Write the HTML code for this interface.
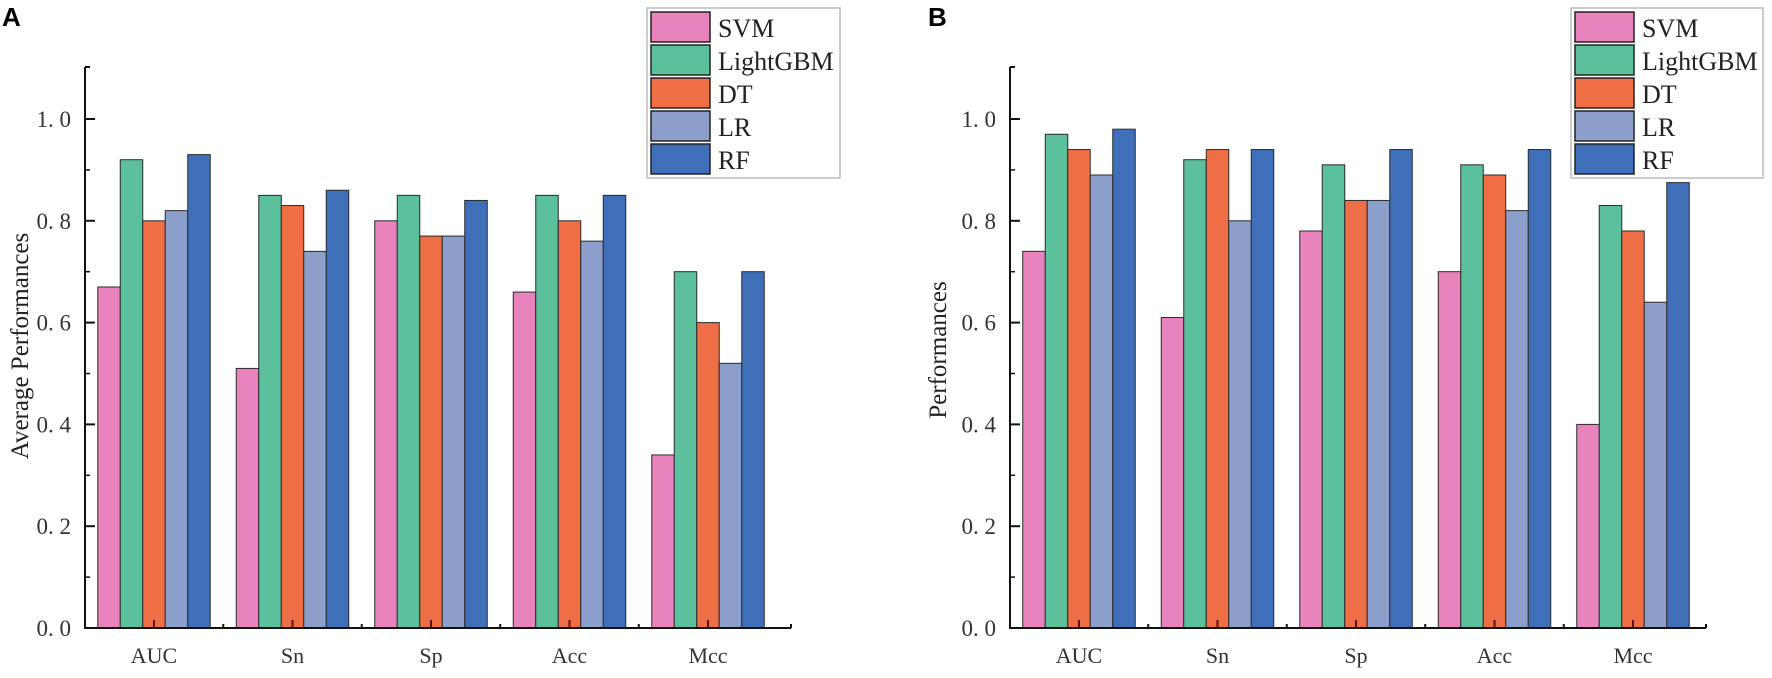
<!DOCTYPE html>
<html><head><meta charset="utf-8">
<style>
html,body{margin:0;padding:0;background:#fff;}
svg{display:block;}
text{font-family:"Liberation Serif",serif;fill:#333;}
</style></head>
<body>
<svg id="chart" width="1772" height="678" viewBox="0 0 1772 678" xmlns="http://www.w3.org/2000/svg"></svg>
<script>
const categories = ["AUC","Sn","Sp","Acc","Mcc"];
const seriesNames = ["SVM","LightGBM","DT","LR","RF"];
const seriesColors = ["#e883bd","#5cc09c","#ee6e45","#8c9fcb","#3f6fb8"];
const yTicks = [0,0.2,0.4,0.6,0.8,1.0];
const yTickLabels = ["0. 0","0. 2","0. 4","0. 6","0. 8","1. 0"];
const aSVM = [0.67,0.51,0.80,0.66,0.34];
const aLightGBM = [0.92,0.85,0.85,0.85,0.70];
const aDT = [0.80,0.83,0.77,0.80,0.60];
const aLR = [0.82,0.74,0.77,0.76,0.52];
const aRF = [0.93,0.86,0.84,0.85,0.70];
const bSVM = [0.74,0.61,0.78,0.70,0.40];
const bLightGBM = [0.97,0.92,0.91,0.91,0.83];
const bDT = [0.94,0.94,0.84,0.89,0.78];
const bLR = [0.89,0.80,0.84,0.82,0.64];
const bRF = [0.98,0.94,0.94,0.94,0.875];

const NS="http://www.w3.org/2000/svg";
const svg=document.getElementById('chart');
function mk(tag,attrs,parent){const e=document.createElementNS(NS,tag);for(const k in attrs)e.setAttribute(k,attrs[k]);(parent||svg).appendChild(e);return e;}

function panel(p){
  const g=mk('g',{});
  
  
  const y0=628, unit=509, top=67;
  const yScale=v=>y0-v*unit;
  const step=138.5, bw=22.5;
  const xCenter=i=>p.ax+69+i*step;
  const L=mk('text',{x:p.letterX,y:26,'font-size':26,'font-weight':'bold',style:'font-family:"Liberation Sans",sans-serif;fill:#000'},g);
  L.textContent=p.letter;
  
  
  p.series.forEach((vals,s)=>{
    vals.forEach((v,i)=>{
      const x=xCenter(i)-2.5*bw+s*bw;
      const r=mk('rect',{x:x,y:yScale(v),width:bw,height:y0-yScale(v),fill:seriesColors[s],stroke:'#2a2a2a','stroke-width':1},g);
      
      
    });
  });
  const ya=mk('line',{x1:p.ax,y1:top,x2:p.ax,y2:y0+1,stroke:'#111','stroke-width':2},g);
  
  
  mk('line',{x1:p.ax,y1:top,x2:p.ax+5,y2:top,stroke:'#111','stroke-width':2},g);
  for(let k=1;k<=10;k+=2){const v=k/10;mk('line',{x1:p.ax,y1:yScale(v),x2:p.ax+5,y2:yScale(v),stroke:'#111','stroke-width':1.5},g);}
  yTicks.forEach((v,i)=>{
    mk('line',{x1:p.ax,y1:yScale(v),x2:p.ax+10,y2:yScale(v),stroke:'#111','stroke-width':2},g);
    const t=mk('text',{x:p.ax-14,y:yScale(v)+8,'text-anchor':'end','font-size':23},g);
    t.textContent=yTickLabels[i];
    
    
  });
  const xa=mk('line',{x1:p.ax,y1:y0,x2:p.xEnd,y2:y0,stroke:'#111','stroke-width':2},g);
  
  
  mk('line',{x1:p.xEnd,y1:y0,x2:p.xEnd,y2:y0-4,stroke:'#111','stroke-width':2},g);
  categories.forEach((c,i)=>{
    mk('line',{x1:xCenter(i),y1:y0,x2:xCenter(i),y2:y0-8,stroke:'#5a1010','stroke-width':2},g);
    if(i<4) mk('line',{x1:xCenter(i)+step/2,y1:y0,x2:xCenter(i)+step/2,y2:y0-4,stroke:'#111','stroke-width':2},g);
    const t=mk('text',{x:xCenter(i),y:663,'text-anchor':'middle','font-size':22},g);
    t.textContent=c;
    
    
  });
  const yt=mk('text',{x:0,y:0,'text-anchor':'middle','font-size':25,transform:`translate(${p.titleX},${p.titleY}) rotate(-90)`,style:'fill:#222'},g);
  yt.textContent=p.title;
  
  
  const lg=mk('g',{},g);
  
  
  mk('rect',{x:p.lx,y:8,width:p.lw,height:170,fill:'#fff',stroke:'#bbb','stroke-width':1.5},lg);
  seriesNames.forEach((n,s)=>{
    const e=mk('g',{},lg);
    
    
    mk('rect',{x:p.lx+4,y:12+s*33,width:59,height:30,fill:seriesColors[s],stroke:'#222','stroke-width':1.5},e);
    const t=mk('text',{x:p.lx+71,y:37+s*33,'font-size':26,style:'fill:#222'},e);
    t.textContent=n;
  });
}
panel({id:'a',letter:'A',letterX:2,ax:85,xEnd:791,lx:647,lw:193,series:[aSVM,aLightGBM,aDT,aLR,aRF],title:'Average Performances',titleX:28,titleY:346});
panel({id:'b',letter:'B',letterX:928,ax:1010,xEnd:1706,lx:1571,lw:192,series:[bSVM,bLightGBM,bDT,bLR,bRF],title:'Performances',titleX:946,titleY:350});
</script>
</body></html>
